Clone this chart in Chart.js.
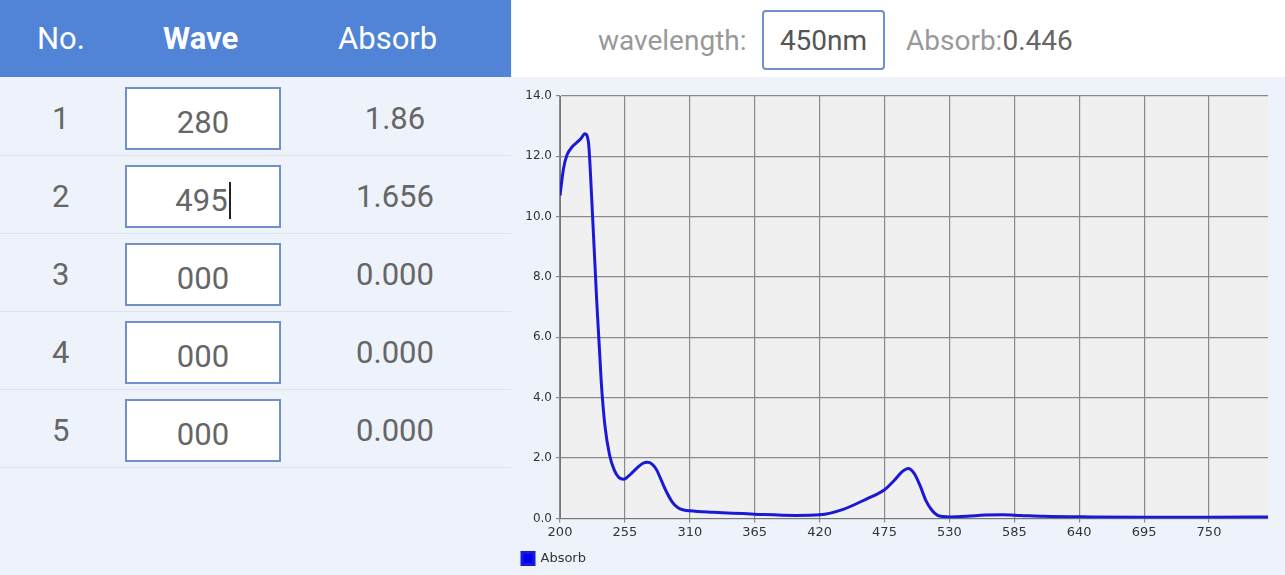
<!DOCTYPE html>
<html><head><meta charset="utf-8">
<script src="https://cdn.jsdelivr.net/npm/chart.js@4"></script>
<style>
body{margin:0;width:1285px;height:575px;overflow:hidden;font-family:Roboto,sans-serif;background:#eef3fb;position:relative}
#left{position:absolute;left:0;top:0;width:511px;height:575px;background:#eef3fb}
#hdr{position:absolute;left:0;top:0;width:511px;height:77px;background:#5183d6;color:#fff;font-size:31px}
#hdr span{position:absolute;top:20px}
.row{position:absolute;left:0;width:511px;height:77px;border-bottom:1px solid #dde3ec;color:#666;font-size:31px}
.row .n{position:absolute;left:52px;top:22px}
.row .box{position:absolute;left:125px;top:9px;width:156px;height:63px;background:#fff;border:2px solid #6f90c8;box-sizing:border-box;text-align:center;line-height:68px}
.row .a{position:absolute;left:300px;width:190px;text-align:center;top:22px}
#top{position:absolute;left:512px;top:0;width:773px;height:77px;background:#fff;font-size:28px;color:#999}
#cw{position:absolute;left:512px;top:80px;width:773px;height:495px}
</style></head><body>
<div id="left"><div id="hdr"><span style="left:37px">No.</span><span style="left:163px;font-weight:bold">Wave</span><span style="left:338px">Absorb</span></div></div>
<div id="top"><span style="position:absolute;left:86px;top:24px">wavelength:</span>
<div style="position:absolute;left:250px;top:10px;width:123px;height:60px;border:2px solid #6f90c8;border-radius:4px;box-sizing:border-box;color:#555;text-align:center;line-height:58px">450nm</div>
<span style="position:absolute;left:394px;top:24px">Absorb:<span style="color:#666">0.446</span></span></div>
<div id="cw"><canvas id="c" width="773" height="495"></canvas></div>
<script>
const rowNo=[1,2,3,4,5];
const rowWave=['280','495','000','000','000'];
const rowAbs=['1.86','1.656','0.000','0.000','0.000'];
const wavelengths=[200,203,206,210,214,218,221,224,227,231,235,238,242,246,250,254,258,262,266,270,274,278,282,286,290,295,300,305,310,330,365,400,420,440,460,475,483,490,495,500,505,510,515,520,525,530,545,560,575,590,610,650,700,750,800];
const absorbance=[10.7,11.6,12.05,12.3,12.45,12.6,12.75,12.5,10.5,7.3,4.5,3.1,2.1,1.6,1.35,1.3,1.4,1.55,1.7,1.82,1.86,1.8,1.6,1.25,0.9,0.55,0.35,0.28,0.25,0.2,0.14,0.1,0.12,0.3,0.65,0.95,1.25,1.55,1.656,1.5,1.1,0.6,0.28,0.1,0.06,0.05,0.07,0.11,0.12,0.1,0.07,0.05,0.04,0.04,0.05];
const xTicks=[200,255,310,365,420,475,530,585,640,695,750];
const yTicks=[0,2,4,6,8,10,12,14];

const L=document.getElementById('left');
rowNo.forEach((n,i)=>{const d=document.createElement('div');d.className='row';d.style.top=(78+i*78)+'px';
d.innerHTML='<span class="n">'+n+'</span><div class="box">'+rowWave[i]+(i==1?'<span style="border-left:2px solid #222;margin-left:1px"></span>':'')+'</div><span class="a">'+rowAbs[i]+'</span>';L.appendChild(d);});

const bg={id:'bg',beforeDraw(ch){const a=ch.chartArea,c=ch.ctx;c.save();c.fillStyle='#f0f0f0';c.fillRect(a.left,a.top,a.right-a.left,a.bottom-a.top);c.restore();}};
new Chart(document.getElementById('c'),{type:'line',plugins:[bg],
data:{datasets:[{label:'Absorb',data:wavelengths.map((x,i)=>({x,y:absorbance[i]})),borderColor:'#1a1ad6',backgroundColor:'#0000ee',borderWidth:3,pointRadius:0,tension:0.4,cubicInterpolationMode:'monotone'}]},
options:{animation:false,responsive:false,layout:{padding:{top:16,right:17,bottom:0}},
plugins:{legend:{position:'bottom',align:'start',labels:{boxWidth:12,boxHeight:12,font:{size:13,family:'DejaVu Sans'},color:'#333',padding:10},onClick:null},tooltip:{enabled:false}},
scales:{x:{type:'linear',min:200,max:800,afterBuildTicks(s){s.ticks=xTicks.map(v=>({value:v}));},
ticks:{color:'#333',font:{size:13,family:'DejaVu Sans'},padding:2,maxRotation:0},grid:{color:'#8a8a8a',lineWidth:1.2,tickLength:4},border:{color:'#777'}},
y:{min:0,max:14,afterBuildTicks(s){s.ticks=yTicks.map(v=>({value:v}));},afterFit(s){s.width=48;},
ticks:{color:'#333',font:{size:12,family:'DejaVu Sans'},callback:v=>v.toFixed(1),padding:4},grid:{color:'#8a8a8a',lineWidth:1.2,tickLength:4},border:{color:'#777'}}}}});
</script></body></html>
